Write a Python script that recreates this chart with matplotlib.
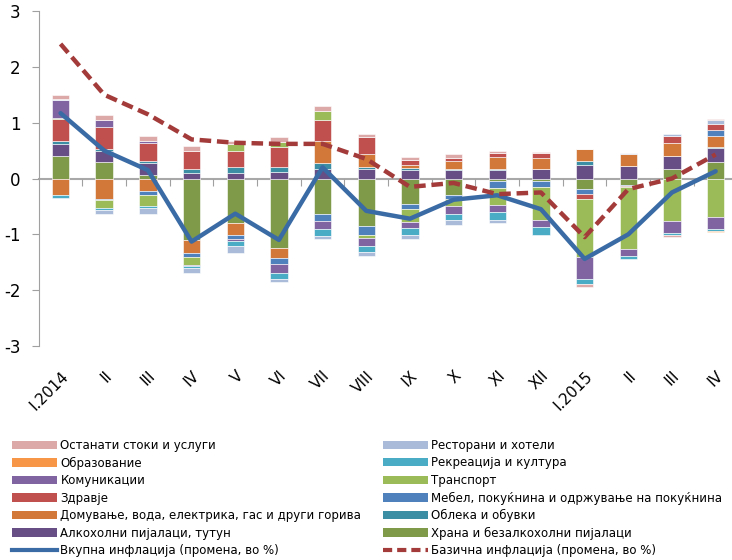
import numpy as np
import matplotlib
matplotlib.use("Agg")
import matplotlib.pyplot as plt
from matplotlib.patches import Patch
from matplotlib.lines import Line2D

plt.rcParams['font.family'] = ['DejaVu Sans']
plt.rcParams['axes.unicode_minus'] = False

periods = ["I.2014", "II", "III", "IV", "V", "VI", "VII", "VIII", "IX", "X",
           "XI", "XII", "I.2015", "II", "III", "IV"]

# contributions (percentage points)
food        = [0.41, 0.29, 0.07, -1.10, -0.80, -1.24, -0.64, -0.85, -0.46, -0.29, -0.05, -0.04, -0.18, -0.11, 0.17, 0.29]
alcohol     = [0.20, 0.21, 0.21, 0.10, 0.10, 0.11, 0.17, 0.17, 0.16, 0.15, 0.16, 0.17, 0.24, 0.23, 0.24, 0.25]
clothing    = [0.06, 0.02, 0.03, 0.07, 0.11, 0.10, 0.10, 0.04, 0.03, 0.02, 0.01, 0.00, 0.07, 0.00, 0.00, 0.02]
housing     = [-0.30, -0.36, -0.23, -0.24, -0.22, -0.19, 0.41, 0.22, 0.06, 0.14, 0.22, 0.20, 0.21, 0.20, 0.23, 0.21]
furniture   = [0.00, -0.03, -0.06, -0.06, -0.06, -0.11, -0.12, -0.17, -0.09, -0.07, -0.12, -0.11, -0.09, -0.03, 0.00, 0.09]
health      = [0.40, 0.40, 0.33, 0.32, 0.29, 0.35, 0.36, 0.31, 0.08, 0.06, 0.07, 0.08, -0.09, -0.02, 0.12, 0.12]
transport   = [0.02, -0.14, -0.20, -0.15, 0.12, 0.09, 0.17, -0.05, -0.23, -0.13, -0.31, -0.60, -1.04, -1.10, -0.76, -0.69]
comms       = [0.31, 0.12, 0.04, -0.02, -0.04, -0.16, -0.15, -0.13, -0.10, -0.14, -0.12, -0.12, -0.40, -0.13, -0.21, -0.21]
recreation  = [-0.05, -0.04, -0.04, -0.04, -0.09, -0.10, -0.12, -0.12, -0.14, -0.11, -0.15, -0.14, -0.09, -0.05, -0.05, -0.04]
education   = [0.00, 0.00, 0.00, 0.00, 0.00, 0.00, 0.00, 0.00, 0.00, 0.00, 0.00, 0.00, 0.00, 0.00, 0.00, -0.01]
restaurants = [0.02, -0.06, -0.10, -0.09, -0.12, -0.06, -0.06, -0.07, -0.06, -0.09, -0.04, 0.00, 0.00, 0.03, 0.04, 0.07]
other       = [0.07, 0.10, 0.09, 0.09, 0.05, 0.09, 0.08, 0.05, 0.06, 0.07, 0.04, 0.03, -0.06, 0.00, -0.02, 0.02]

total_infl = [1.17, 0.50, 0.15, -1.13, -0.63, -1.10, 0.20, -0.58, -0.72, -0.38, -0.30, -0.55, -1.44, -1.00, -0.25, 0.13]
core_infl  = [2.41, 1.50, 1.15, 0.70, 0.64, 0.62, 0.62, 0.35, -0.15, -0.08, -0.28, -0.25, -1.05, -0.19, 0.00, 0.43]

series = [
    ("Храна и безалкохолни пијалаци", food, '#7F9A48'),
    ("Алкохолни пијалаци, тутун", alcohol, '#674F86'),
    ("Облека и обувки", clothing, '#3C8EA4'),
    ("Домување, вода, електрика, гас и други горива", housing, '#D2793A'),
    ("Мебел, покуќнина и одржување на покуќнина", furniture, '#4F81BD'),
    ("Здравје", health, '#C0504D'),
    ("Транспорт", transport, '#9BBB59'),
    ("Комуникации", comms, '#8064A2'),
    ("Рекреација и култура", recreation, '#4BACC6'),
    ("Образование", education, '#F79646'),
    ("Ресторани и хотели", restaurants, '#AABAD9'),
    ("Останати стоки и услуги", other, '#DDA9A8'),
]

fig = plt.figure(figsize=(7.32, 5.6), dpi=100)
ax = fig.add_axes([38.7/732, 1-346/560, (737.5-38.7)/732, (346-11)/560])

x = np.arange(len(periods))
pos_b = np.zeros(len(x))
neg_b = np.zeros(len(x))
handles = {}
for name, vals, col in series:
    v = np.array(vals)
    b = np.where(v >= 0, pos_b, neg_b)
    ax.bar(x, v, 0.4, bottom=b, color=col, edgecolor='white', linewidth=0.4, zorder=2)
    pos_b += np.where(v >= 0, v, 0)
    neg_b += np.where(v < 0, v, 0)
    handles[name] = Patch(facecolor=col, edgecolor='none')

ax.plot(x, total_infl, color='#3A6BA4', lw=3.2, zorder=4, solid_capstyle='round')
ax.plot(x, core_infl, color='#A33B3A', lw=3.2, zorder=4, linestyle=(0, (2.6, 1.3)))

ax.set_xlim(-0.5, 15.5)
ax.set_ylim(-3, 3)
ax.set_yticks(range(-3, 4))
ax.tick_params(axis='y', labelsize=12, length=5, color='#A0A0A0', pad=8)

for s in ['top', 'right']:
    ax.spines[s].set_visible(False)
ax.spines['left'].set_color('#A0A0A0')
ax.spines['bottom'].set_position(('data', 0))
ax.spines['bottom'].set_color('#A8A8A8')
ax.spines['bottom'].set_linewidth(1.5)
ax.spines['bottom'].set_zorder(1)
ax.set_xticks(np.arange(0.5, 15.6, 1))
ax.tick_params(axis='x', length=5, color='#A0A0A0', labelbottom=False)

sec = ax.secondary_xaxis('bottom')
sec.set_xticks(x, periods, rotation=45, ha='right', rotation_mode='anchor')
sec.tick_params(length=0, labelsize=11, pad=16)
sec.spines['bottom'].set_visible(False)

col1 = ["Останати стоки и услуги", "Образование", "Комуникации", "Здравје",
        "Домување, вода, електрика, гас и други горива", "Алкохолни пијалаци, тутун"]
col2 = ["Ресторани и хотели", "Рекреација и култура", "Транспорт",
        "Мебел, покуќнина и одржување на покуќнина", "Облека и обувки", "Храна и безалкохолни пијалаци"]

h1 = [handles[n] for n in col1] + [Line2D([], [], color='#3A6BA4', lw=3)]
t1 = col1 + ["Вкупна инфлација (промена, во %)"]
h2 = [handles[n] for n in col2] + [Line2D([], [], color='#A33B3A', lw=3, linestyle=(0, (2.2, 1.2)))]
t2 = col2 + ["Базична инфлација (промена, во %)"]

kw = dict(loc='upper left', frameon=False, fontsize=8.5, handlelength=3.8,
          handletextpad=0.3, labelspacing=0.38, borderaxespad=0, borderpad=0)
fig.legend(h1, t1, bbox_to_anchor=(12/732, 1-439/560), **kw)
fig.legend(h2, t2, bbox_to_anchor=(383/732, 1-439/560), **kw)

fig.savefig("out.png", dpi=100)
